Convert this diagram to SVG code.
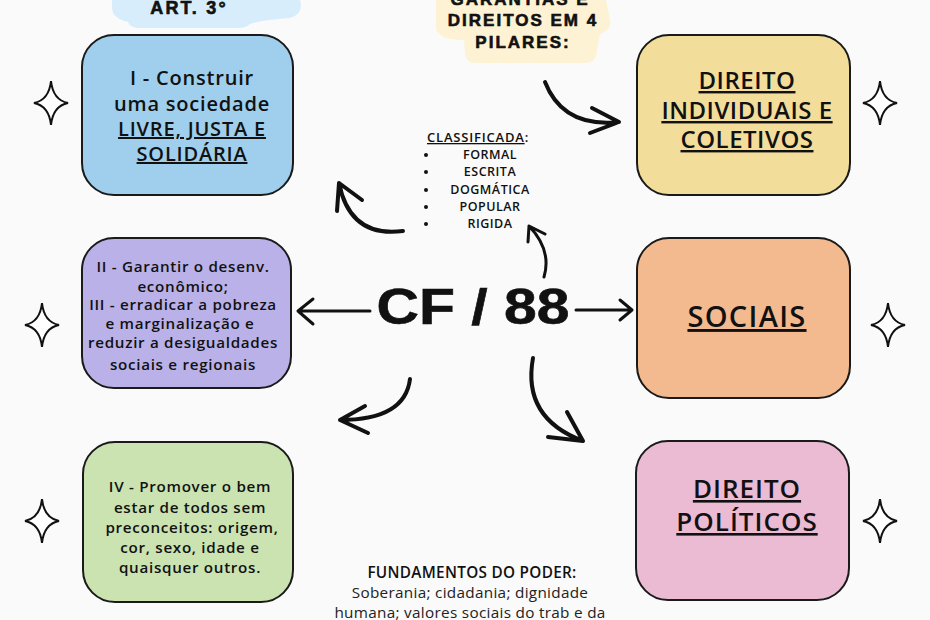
<svg xmlns="http://www.w3.org/2000/svg" width="930" height="620" viewBox="0 0 930 620">
<defs>
<style>
.box{stroke:#1a1a1a;stroke-width:2}
.t{font-family:"Open Sans","Liberation Sans",sans-serif;font-weight:600;fill:#111;text-anchor:middle}
.h{font-family:"Liberation Sans","DejaVu Sans",sans-serif;font-weight:900;fill:#111;text-anchor:middle;stroke:#111;stroke-width:0.6}
.arr{fill:none;stroke:#111;stroke-width:4;stroke-linecap:round;stroke-linejoin:round}
.thin{fill:none;stroke:#111;stroke-width:3;stroke-linecap:round;stroke-linejoin:round}
.star{fill:#fff;stroke:#111;stroke-width:2}
</style>
<path id="star" d="M0,-22 Q2,-3 17,0 Q2,3 0,22 Q-2,3 -17,0 Q-2,-3 0,-22 Z"/>
</defs>
<rect width="930" height="620" fill="#fafafa"/>

<g id="header-art3">
<path d="M112,0 L300,0 Q304,14 290,18 Q262,20 250,24 Q246,28 238,28 L140,28 Q130,28 128,22 Q112,18 112,8 Z" fill="#d8edfb"/>
<text class="h" x="189" y="14" font-size="18" letter-spacing="2.2">ART. 3°</text>
</g>

<g id="header-garantias">
<path d="M436,0 L606,0 L610,20 Q612,30 600,34 L596,56 Q594,63 584,63 L476,63 Q466,63 465,54 L464,40 Q438,40 436,28 Z" fill="#fdf2d3"/>
<text class="h" x="520" y="5" font-size="17" letter-spacing="2">GARANTIAS E</text>
<text class="h" x="523" y="26" font-size="17" letter-spacing="2">DIREITOS EM 4</text>
<text class="h" x="523" y="48" font-size="17" letter-spacing="2">PILARES:</text>
</g>

<g id="box-art3-i">
<rect class="box" x="82" y="35" width="211" height="160" rx="32" fill="#9fcfec"/>
<g font-size="20" letter-spacing="0.8">
<text class="t" x="192" y="85">I - Construir</text>
<text class="t" x="192" y="111">uma sociedade</text>
<text class="t" x="192" y="136" text-decoration="underline">LIVRE, JUSTA E</text>
<text class="t" x="192" y="161" text-decoration="underline">SOLIDÁRIA</text>
</g>
</g>

<g id="box-art3-ii-iii">
<rect class="box" x="82" y="238" width="209" height="150" rx="32" fill="#b9b1e8"/>
<g font-size="15.2" letter-spacing="0.7">
<text class="t" x="183" y="272">II - Garantir o desenv.</text>
<text class="t" x="183" y="292">econômico;</text>
<text class="t" x="183" y="310">III - erradicar a pobreza</text>
<text class="t" x="180" y="329">e marginalização e</text>
<text class="t" x="183" y="348">reduzir a desigualdades</text>
<text class="t" x="183" y="370">sociais e regionais</text>
</g>
</g>

<g id="box-art3-iv">
<rect class="box" x="83" y="442" width="210" height="160" rx="32" fill="#cae3b1"/>
<g font-size="15.2" letter-spacing="0.7">
<text class="t" x="190" y="492">IV - Promover o bem</text>
<text class="t" x="190" y="513">estar de todos sem</text>
<text class="t" x="192" y="533">preconceitos: origem,</text>
<text class="t" x="190" y="553">cor, sexo, idade e</text>
<text class="t" x="190" y="573">quaisquer outros.</text>
</g>
</g>

<g id="box-direitos-individuais">
<rect class="box" x="637" y="35" width="213" height="160" rx="32" fill="#f2dd9b"/>
<g font-size="24" letter-spacing="0.5">
<text class="t" x="747" y="89" text-decoration="underline">DIREITO</text>
<text class="t" x="747" y="119" text-decoration="underline">INDIVIDUAIS E</text>
<text class="t" x="747" y="148" text-decoration="underline">COLETIVOS</text>
</g>
</g>

<g id="box-sociais">
<rect class="box" x="637" y="238" width="213" height="160" rx="32" fill="#f3ba8f"/>
<text class="t" x="747" y="327" font-size="29" letter-spacing="1.3" text-decoration="underline">SOCIAIS</text>
</g>

<g id="box-direitos-politicos">
<rect class="box" x="636" y="441" width="213" height="159" rx="32" fill="#ebbad3"/>
<g font-size="26" letter-spacing="1">
<text class="t" x="747" y="498" text-decoration="underline">DIREITO</text>
<text class="t" x="747" y="531" text-decoration="underline">POLÍTICOS</text>
</g>
</g>

<g id="center-cf88">
<text class="h" x="473" y="324" font-size="50" textLength="193" lengthAdjust="spacingAndGlyphs" stroke-width="1.5">CF / 88</text>
</g>

<g id="classificada">
<text class="t" x="478" y="142" font-size="13" font-weight="700" letter-spacing="0.8"><tspan text-decoration="underline">CLASSIFICADA</tspan>:</text>
<g font-size="12.5" letter-spacing="0.5">
<text class="t" x="490" y="159" font-weight="700">FORMAL</text>
<text class="t" x="490" y="176" font-weight="700">ESCRITA</text>
<text class="t" x="490" y="194" font-weight="700">DOGMÁTICA</text>
<text class="t" x="490" y="211" font-weight="700">POPULAR</text>
<text class="t" x="490" y="228" font-weight="700">RIGIDA</text>
</g>
<g fill="#111">
<circle cx="426" cy="155" r="2"/>
<circle cx="426" cy="172" r="2"/>
<circle cx="426" cy="190" r="2"/>
<circle cx="426" cy="207" r="2"/>
<circle cx="426" cy="224" r="2"/>
</g>
</g>

<g id="fundamentos">
<text class="t" x="472" y="578" font-size="15.3" font-weight="700" letter-spacing="0.3">FUNDAMENTOS DO PODER:</text>
<g font-size="15.3" letter-spacing="0.3" font-family="Open Sans, Liberation Sans, sans-serif" fill="#222" text-anchor="middle">
<text x="470" y="598">Soberania; cidadania; dignidade</text>
<text x="470" y="618">humana; valores sociais do trab e da</text>
</g>
</g>

<g id="stars">
<use href="#star" class="star" x="51" y="103"/>
<use href="#star" class="star" x="42" y="325"/>
<use href="#star" class="star" x="42" y="521"/>
<use href="#star" class="star" x="880" y="103"/>
<use href="#star" class="star" x="888" y="325"/>
<use href="#star" class="star" x="880" y="521"/>
</g>

<g id="connectors">
<path class="thin" d="M370,311 L298,311 M313,299 L298,311 L313,324"/>
<path class="thin" d="M576,310 L632,310 M620,300 L632,310 L620,320"/>
<path class="arr" d="M403,231 Q350,238 339,183 M337,211 L339,183 L362,200"/>
<path class="thin" d="M544,277 Q552,250 529,226 M528,242 L529,226 L545,234"/>
<path class="arr" d="M545,82 Q563,128 619,122 M592,108 L619,122 L590,133"/>
<path class="arr" d="M410,379 Q405,420 340,420 M365,406 L340,420 L368,433"/>
<path class="arr" d="M533,358 Q522,418 583,441 M567,412 L583,441 L548,437"/>
</g>
</svg>
